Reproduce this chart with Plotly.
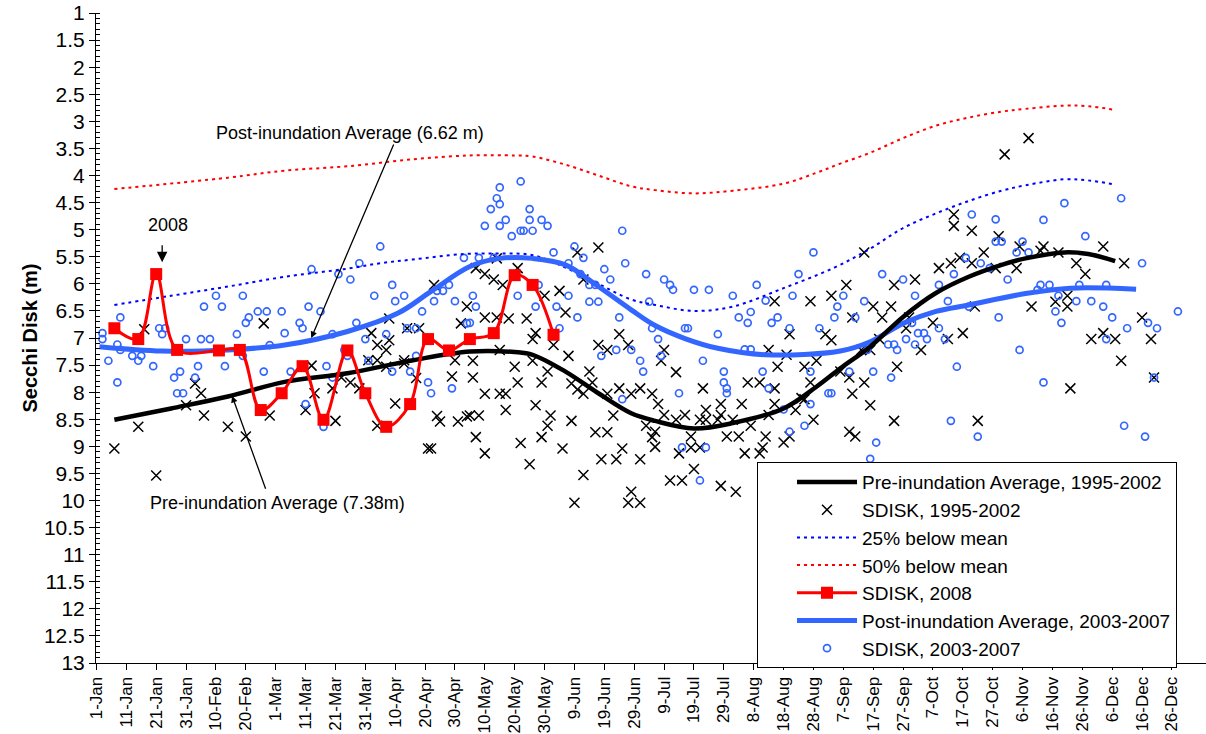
import plotly.graph_objects as go

# ---------------- axis ticks ----------------
tick_days = list(range(0, 361, 10))
tick_labels = ['1-Jan', '11-Jan', '21-Jan', '31-Jan', '10-Feb', '20-Feb', '1-Mar', '11-Mar',
               '21-Mar', '31-Mar', '10-Apr', '20-Apr', '30-Apr', '10-May', '20-May', '30-May',
               '9-Jun', '19-Jun', '29-Jun', '9-Jul', '19-Jul', '29-Jul', '8-Aug', '18-Aug',
               '28-Aug', '7-Sep', '17-Sep', '27-Sep', '7-Oct', '17-Oct', '27-Oct', '6-Nov',
               '16-Nov', '26-Nov', '6-Dec', '16-Dec', '26-Dec']

# ---------------- averages (day of year, m) ----------------
pre_avg_day = [6, 25, 44, 63, 84, 106, 125, 140, 146, 157, 168, 179, 187, 200, 213, 230, 241,
               249, 259, 270, 281, 292, 303, 311, 324, 332, 341]
pre_avg_val = [8.51, 8.30, 8.08, 7.81, 7.65, 7.41, 7.25, 7.26, 7.31, 7.62, 8.02, 8.39, 8.53,
               8.67, 8.57, 8.30, 7.90, 7.56, 7.16, 6.61, 6.17, 5.87, 5.65, 5.53, 5.42, 5.45, 5.58]

post_avg_day = [1, 22, 44, 63, 84, 101, 112, 125, 135, 146, 157, 168, 179, 187, 197, 208, 224,
                249, 259, 270, 281, 292, 311, 326, 348]
post_avg_val = [7.16, 7.24, 7.22, 7.13, 6.88, 6.54, 6.14, 5.68, 5.53, 5.53, 5.65, 6.05, 6.48,
                6.77, 7.01, 7.19, 7.31, 7.24, 7.07, 6.73, 6.51, 6.39, 6.18, 6.08, 6.10]

below25_day = [6, 25, 44, 63, 84, 95, 106, 123, 135, 146, 157, 168, 179, 187, 200, 213, 230,
               247, 259, 270, 281, 292, 303, 311, 324, 332, 341]
below25_val = [6.39, 6.22, 6.05, 5.87, 5.72, 5.62, 5.55, 5.45, 5.44, 5.47, 5.70, 6.00, 6.29,
               6.39, 6.50, 6.42, 6.08, 5.70, 5.35, 4.97, 4.70, 4.47, 4.28, 4.18, 4.07, 4.09, 4.17]

below50_day = [6, 44, 63, 84, 106, 125, 140, 146, 157, 168, 179, 187, 200, 213, 230, 241, 249,
               259, 270, 281, 292, 303, 311, 324, 332, 341]
below50_val = [4.25, 4.04, 3.91, 3.83, 3.70, 3.63, 3.63, 3.65, 3.80, 4.00, 4.20, 4.27, 4.33,
               4.28, 4.15, 3.95, 3.78, 3.58, 3.31, 3.08, 2.93, 2.82, 2.77, 2.71, 2.72, 2.79]

# ---------------- 2008 ----------------
sd08_day = [6, 14, 20, 27, 41, 48, 55, 62, 69, 76, 84, 90, 97, 105, 111, 118, 125, 133, 140, 146, 153]
sd08_val = [6.82, 7.02, 5.82, 7.22, 7.23, 7.22, 8.33, 8.02, 7.52, 8.51, 7.23, 8.02, 8.64, 8.22,
            7.02, 7.23, 7.02, 6.91, 5.84, 6.02, 6.94]

# ---------------- SDISK 1995-2002 ----------------
sd95_day = [16, 6, 14, 20, 33, 35, 30, 36, 44, 50, 56, 58,
            72, 73, 70, 79, 80, 82, 85, 88, 92, 94, 97, 98, 91, 94, 97, 100, 94, 103, 103, 107,
            108, 104, 113, 98, 122, 124, 120, 119, 114, 115, 121, 124, 111, 112,
            127, 130, 133, 136, 134, 141, 161, 168, 163, 150, 155, 157, 130, 134, 138, 144, 147,
            146, 153, 158, 135, 168, 171, 175, 178, 126, 140, 146, 151, 126, 141, 149, 165, 166,
            159, 130, 135, 137, 161, 163, 175, 171, 179, 182, 186, 147, 137, 125, 128, 152, 151,
            159, 173, 149, 127, 167, 171, 184, 186, 142, 130, 156, 176, 169, 174, 182, 145, 163,
            179, 178, 182, 160,
            190, 189, 194, 203, 188, 190, 197, 204, 209, 209, 216, 194, 202, 204, 208, 213, 187,
            187, 199, 211, 215, 219, 224, 218, 222, 227, 225, 195, 199, 202, 217, 222, 223, 230,
            232, 200, 192, 196, 209, 214, 227, 239, 246, 232, 244, 246, 225, 231, 228, 237, 241,
            239, 234, 236, 237, 240, 227,
            304, 257, 287, 287, 293, 302, 309, 251, 267, 274, 282, 286, 289, 293, 297, 308, 301,
            260, 266, 253, 263, 272, 294, 280, 271, 262, 285, 290, 276, 256, 259, 249, 252, 257,
            253, 259, 268, 267, 295, 252, 254,
            312, 317, 316, 322, 337, 328, 331, 344, 325, 321, 325, 313, 350, 337, 333, 341, 353,
            343, 354, 326]
sd95_val = [6.84, 9.04, 8.64, 9.54, 7.84, 8.02, 8.24, 8.43, 8.64, 8.82, 6.73, 8.43,
            7.51, 8.02, 8.33, 7.93, 8.53, 7.73, 7.82, 7.93, 6.91, 7.13, 7.22, 7.04, 7.41, 7.41,
            7.53, 8.21, 8.62, 7.41, 7.47, 7.74, 6.82, 6.82, 6.02, 6.64, 6.73, 6.42, 7.41, 7.71,
            8.44, 8.54, 8.54, 8.45, 9.04, 9.04,
            5.71, 5.82, 5.92, 6.02, 5.53, 5.71, 5.42, 5.33, 5.92, 6.22, 6.13, 6.53, 6.62, 6.62,
            6.64, 6.64, 6.91, 7.02, 7.13, 7.33, 7.22, 7.13, 7.22, 6.93, 7.13, 7.42, 7.53, 7.42,
            7.62, 7.73, 7.82, 7.82, 7.62, 7.82, 7.84, 8.03, 8.03, 8.03, 7.95, 8.03, 7.93, 8.03,
            8.03, 7.93, 8.03, 8.24, 8.33, 8.43, 8.43, 8.43, 8.62, 8.53, 8.43, 8.83, 8.83, 8.74,
            8.74, 8.62, 8.83, 8.94, 9.13, 9.04, 9.04, 9.24, 9.24, 9.24, 9.33, 9.53, 9.84, 10.04,
            10.04, 10.04,
            7.22, 7.42, 7.63, 7.93, 8.22, 8.42, 8.42, 8.33, 8.22, 8.42, 8.22, 8.51, 8.51, 8.51,
            8.51, 8.51, 8.73, 9.01, 8.82, 8.82, 8.82, 8.62, 8.82, 7.82, 7.82, 7.93, 8.42, 9.13,
            9.02, 9.02, 9.13, 9.13, 9.02, 8.93, 8.82, 9.42, 9.63, 9.63, 9.73, 9.84, 6.32, 6.32,
            6.22, 6.93, 6.93, 7.04, 7.22, 7.31, 7.53, 7.53, 7.42, 7.82, 8.33, 8.11, 8.13, 8.51,
            8.22,
            3.61, 5.42, 4.72, 4.93, 5.02, 5.12, 5.31, 6.02, 6.02, 5.92, 5.71, 5.62, 5.52, 5.62,
            5.42, 5.71, 5.71, 6.42, 6.42, 6.62, 6.62, 6.62, 6.42, 6.72, 6.82, 7.02, 7.02, 6.91,
            7.22, 7.22, 7.22, 7.62, 7.73, 7.82, 8.03, 8.24, 7.53, 8.53, 8.53, 8.73, 8.82,
            3.31, 5.31, 5.39, 5.42, 5.31, 5.62, 5.82, 5.62, 6.22, 6.33, 6.42, 6.42, 6.62, 6.91,
            7.02, 7.02, 7.02, 7.42, 7.73, 7.93]

# ---------------- SDISK 2003-2007 ----------------
sd03_day = [2, 2, 8, 7, 8, 4, 12, 14, 15, 7, 21, 23, 22, 19, 30, 26, 28, 27, 29, 33, 34, 36,
            40, 42, 35, 38, 43, 47, 49, 50, 51, 49, 54, 57, 56, 58, 62, 63,
            72, 81, 85, 88, 95, 71, 75, 68, 69, 79, 87, 93, 99, 100, 103, 90, 97, 65, 77, 79,
            83, 84, 91, 104, 107, 109, 113, 114, 116, 118, 120, 123, 99, 105, 107, 111, 112,
            119, 70, 76, 124,
            135, 142, 134, 135, 132, 137, 145, 145, 149, 130, 135, 142, 143, 146, 151, 139, 176,
            153, 160, 163, 158, 177, 170, 172, 184, 162, 165, 167, 128, 133, 148, 141, 126, 158,
            165, 168, 185, 127, 147, 154, 125, 161, 175, 155, 186, 174, 179, 169, 182, 183, 176,
            240, 190, 192, 193, 200, 205, 221, 213, 235, 233, 224, 248, 219, 215, 218, 226, 228,
            247, 197, 198, 232, 242, 188, 208, 217, 219, 189, 203, 210, 223, 239, 210, 211, 211,
            225, 195, 245, 246, 239, 230, 237, 232, 196, 204, 202,
            293, 301, 301, 303, 291, 296, 299, 310, 308, 263, 270, 287, 305, 282, 274, 257, 285,
            292, 250, 254, 302, 273, 282, 275, 277, 278, 271, 284, 265, 267, 268, 274, 258, 309,
            260, 252, 266, 288, 286, 295, 261, 259,
            343, 324, 317, 331, 312, 350, 316, 319, 329, 338, 315, 322, 328, 333, 337, 321, 362,
            340, 323, 352, 355, 345, 338, 354, 317, 344, 351]
sd03_val = [6.91, 7.02, 6.62, 7.12, 7.22, 7.42, 7.33, 7.42, 7.33, 7.82, 6.82, 6.82, 6.93, 7.52,
            7.02, 7.73, 7.62, 8.02, 8.02, 7.73, 7.52, 6.42, 6.22, 6.42, 7.02, 7.02, 7.52, 6.93,
            6.22, 6.72, 6.62, 7.33, 6.51, 6.51, 7.62, 7.13, 6.51, 6.91,
            5.73, 5.82, 5.92, 5.62, 5.31, 6.42, 6.51, 6.72, 6.82, 6.93, 6.72, 6.22, 6.02, 6.32,
            6.22, 7.02, 6.93, 7.62, 7.52, 7.73, 7.22, 7.33, 7.42, 6.82, 6.82, 6.51, 6.32, 6.13,
            6.13, 6.02, 6.32, 5.52, 7.62, 7.62, 7.33, 7.82, 8.02, 7.93, 8.22, 8.64, 6.73,
            4.22, 4.11, 4.42, 4.53, 4.62, 4.82, 4.62, 4.82, 4.82, 4.93, 4.93, 5.02, 5.02, 5.02,
            4.93, 5.12, 5.02, 5.42, 5.31, 5.52, 5.62, 5.62, 5.73, 5.92, 5.82, 5.82, 6.02, 6.02,
            5.52, 5.52, 6.02, 6.22, 6.22, 6.22, 6.33, 6.33, 6.33, 6.42, 6.42, 6.42, 6.72, 6.62,
            6.62, 6.82, 6.82, 7.22, 7.22, 7.33, 7.42, 7.62, 8.13,
            5.42, 5.92, 6.02, 6.11, 6.11, 6.11, 6.02, 6.22, 5.82, 6.22, 6.31, 6.42, 6.52, 6.62,
            6.72, 6.72, 6.62, 6.62, 6.82, 6.82, 6.82, 6.82, 7.02, 6.93, 7.21, 7.21, 7.33, 7.42,
            7.62, 7.62, 7.62, 7.82, 7.93, 8.02, 7.93, 8.02, 8.02, 8.02, 8.22, 8.32, 8.62, 8.73,
            9.02, 9.02, 9.63,
            4.72, 4.81, 5.22, 5.22, 5.52, 5.62, 5.71, 5.22, 5.42, 5.82, 5.92, 5.82, 5.92, 6.02,
            6.22, 6.32, 6.32, 6.42, 6.22, 6.62, 6.62, 6.72, 6.82, 6.91, 6.91, 7.02, 7.02, 7.02,
            7.12, 7.12, 7.22, 7.12, 7.22, 7.22, 7.62, 7.62, 7.73, 7.53, 8.53, 8.82, 8.93, 9.23,
            4.42, 4.51, 4.82, 5.12, 5.42, 5.62, 6.02, 6.02, 6.02, 6.02, 6.11, 6.22, 6.32, 6.32,
            6.42, 6.51, 6.51, 6.62, 6.72, 6.72, 6.82, 6.82, 7.02, 7.73, 7.82, 8.62, 8.82]

BLACK = '#000000'
BLUE = '#3366FF'
RED = '#FF0000'
FONT = 'Arial, Liberation Sans, sans-serif'

fig = go.Figure()

fig.add_trace(go.Scatter(
    x=sd95_day, y=sd95_val, mode='markers', name='SDISK, 1995-2002', legendrank=2,
    marker=dict(symbol='x-thin', size=10, color=BLACK, line=dict(color=BLACK, width=1.5))))
fig.add_trace(go.Scatter(
    x=sd03_day, y=sd03_val, mode='markers', name='SDISK, 2003-2007', legendrank=7,
    marker=dict(symbol='circle-open', size=7, color=BLUE, line=dict(color=BLUE, width=1.7))))
fig.add_trace(go.Scatter(
    x=below25_day, y=below25_val, mode='lines', name='25% below mean', legendrank=3,
    line=dict(color='#0000FF', width=2, dash='3px,4px', shape='spline')))
fig.add_trace(go.Scatter(
    x=below50_day, y=below50_val, mode='lines', name='50% below mean', legendrank=4,
    line=dict(color=RED, width=2, dash='3px,4px', shape='spline')))
fig.add_trace(go.Scatter(
    x=post_avg_day, y=post_avg_val, mode='lines', name='Post-inundation Average, 2003-2007',
    legendrank=6, line=dict(color=BLUE, width=5, shape='spline')))
fig.add_trace(go.Scatter(
    x=pre_avg_day, y=pre_avg_val, mode='lines', name='Pre-inundation Average, 1995-2002',
    legendrank=1, line=dict(color=BLACK, width=4.5, shape='spline')))
fig.add_trace(go.Scatter(
    x=sd08_day, y=sd08_val, mode='lines+markers', name='SDISK, 2008', legendrank=5,
    line=dict(color=RED, width=3, shape='spline'),
    marker=dict(symbol='square', size=12, color=RED)))

# ---------------- annotations ----------------
def arrow(tip_x, tip_y, tail_x, tail_y, size=1.0):
    fig.add_annotation(x=tip_x, y=tip_y, ax=tail_x, ay=tail_y, xref='x', yref='y',
                       axref='x', ayref='y', text='', showarrow=True, arrowhead=2,
                       arrowsize=size, arrowwidth=1.3, arrowcolor=BLACK, standoff=0,
                       startstandoff=0)

def label(x, y, text):
    fig.add_annotation(x=x, y=y, xref='x', yref='y', text=text, showarrow=False,
                       font=dict(family=FONT, size=18, color=BLACK))

label(24.0, 4.91, '2008')
arrow(22.0, 5.60, 22.0, 5.26, 1.6)
label(85.0, 3.22, 'Post-inundation Average (6.62 m)')
arrow(71.9, 7.00, 99.7, 3.40)
label(60.5, 10.05, 'Pre-inundation Average (7.38m)')
arrow(45.4, 8.07, 56.8, 9.81)

fig.update_layout(
    width=1206, height=734,
    margin=dict(l=96, r=0, t=13, b=71, autoexpand=False),
    paper_bgcolor='white', plot_bgcolor='white',
    font=dict(family=FONT, size=18, color=BLACK),
    showlegend=True,
    legend=dict(x=0.5955, y=0.309, xanchor='left', yanchor='top', bgcolor='white',
                bordercolor=BLACK, borderwidth=1, font=dict(family=FONT, size=19, color=BLACK),
                itemwidth=60, indentation=34, tracegroupgap=0,
                entrywidth=390, entrywidthmode='pixels'),
    xaxis=dict(range=[-0.15, 371.4], tickmode='array', tickvals=tick_days, ticktext=tick_labels,
               tickangle=-90, ticks='outside', ticklen=6, tickcolor=BLACK, showline=True,
               linecolor=BLACK, linewidth=1, showgrid=False, zeroline=False,
               ticklabelstandoff=0,
               tickfont=dict(family=FONT, size=17, color=BLACK)),
    yaxis=dict(range=[13, 1], tickmode='linear', tick0=1, dtick=0.5, ticks='outside', ticklen=6,
               tickcolor=BLACK, showline=True, linecolor=BLACK, linewidth=1, showgrid=False,
               zeroline=False, tickfont=dict(family=FONT, size=21, color=BLACK),
               minor=dict(dtick=0.1, ticks='inside', ticklen=4, tickcolor=BLACK, showgrid=False),
               title=dict(text='<b>Secchi Disk (m)</b>', font=dict(family=FONT, size=20,
                                                                    color=BLACK), standoff=0)),
)

fig.write_html('out.html', config={'displayModeBar': False},
               post_script="document.body.style.margin='0';")
